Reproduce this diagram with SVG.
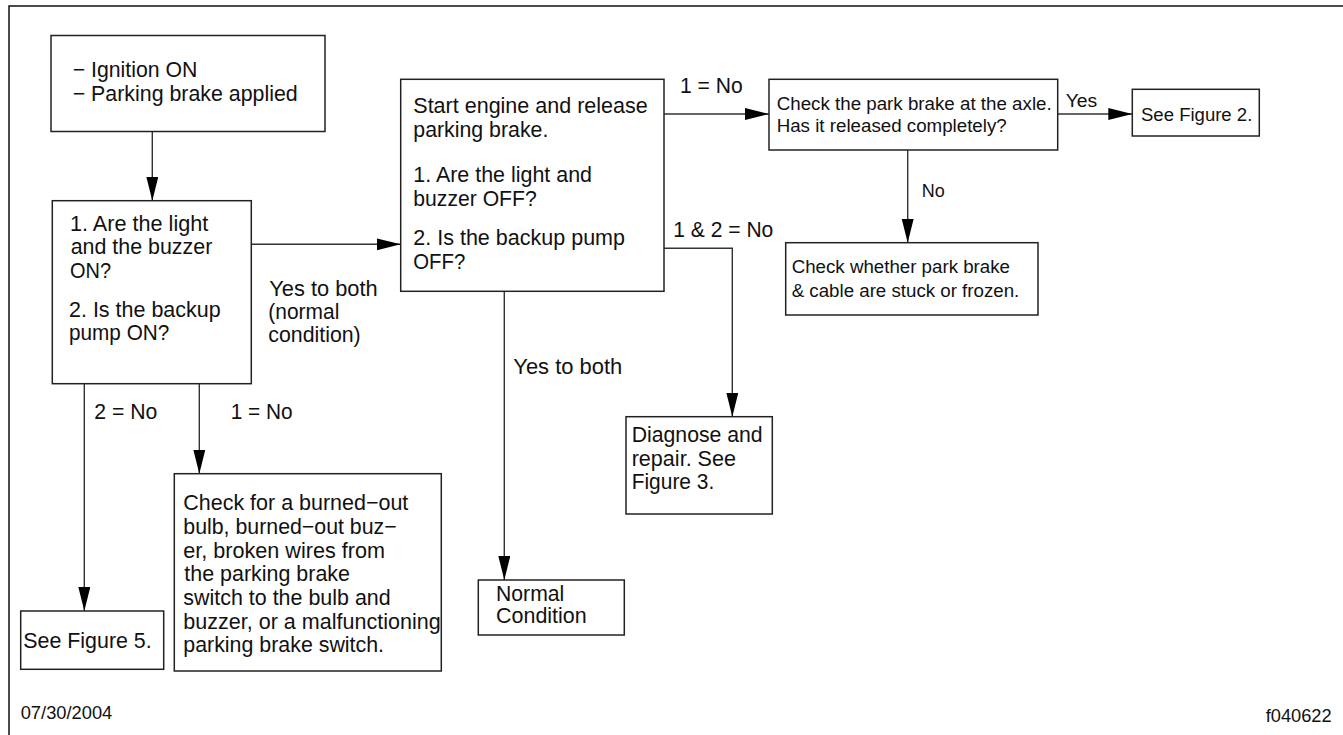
<svg xmlns="http://www.w3.org/2000/svg" width="1343" height="735" viewBox="0 0 1343 735">
<style>
.b{fill:#fff;stroke:#222;stroke-width:1.5}
.c{fill:none;stroke:#333;stroke-width:1.4}
text{font-family:"Liberation Sans",Arial,sans-serif;font-size:21.2px;fill:#111}
.s{font-size:18.7px}
.f{font-size:18.3px}
</style>
<defs>
<marker id="ah" markerUnits="userSpaceOnUse" markerWidth="25" markerHeight="13" refX="24" refY="6" orient="auto" viewBox="0 0 25 13">
<path d="M0,0 L24,6 L0,12 z" fill="#000"/>
</marker>
</defs>
<rect width="1343" height="735" fill="#fff"/>
<path d="M9,735 V6 H1343" fill="none" stroke="#111" stroke-width="1.5"/>

<g id="connectors">
<path class="c" d="M152.3,131.7 V200.7" marker-end="url(#ah)"/>
<path class="c" d="M251.3,244.3 H400.7" marker-end="url(#ah)"/>
<path class="c" d="M84.3,383.7 V611" marker-end="url(#ah)"/>
<path class="c" d="M199.3,383.7 V473.7" marker-end="url(#ah)"/>
<path class="c" d="M664,114 H769" marker-end="url(#ah)"/>
<path class="c" d="M664,248.3 H732.3 V416.7" marker-end="url(#ah)"/>
<path class="c" d="M504.3,291.3 V580" marker-end="url(#ah)"/>
<path class="c" d="M1057.7,114 H1132.3" marker-end="url(#ah)"/>
<path class="c" d="M907.7,150 V242.7" marker-end="url(#ah)"/>
</g>

<g id="labels">
<text x="269.3" y="296" textLength="108.4" lengthAdjust="spacingAndGlyphs">Yes to both</text>
<text x="268.3" y="319" textLength="71" lengthAdjust="spacingAndGlyphs">(normal</text>
<text x="268.3" y="342" textLength="92.4" lengthAdjust="spacingAndGlyphs">condition)</text>
<text x="94.3" y="419.3" textLength="63" lengthAdjust="spacingAndGlyphs">2 = No</text>
<text x="230.7" y="419.3" textLength="62" lengthAdjust="spacingAndGlyphs">1 = No</text>
<text x="680" y="93.3" textLength="62.7" lengthAdjust="spacingAndGlyphs">1 = No</text>
<text x="673.3" y="237.3" textLength="100" lengthAdjust="spacingAndGlyphs">1 &amp; 2 = No</text>
<text x="513.3" y="374" textLength="109" lengthAdjust="spacingAndGlyphs">Yes to both</text>
<text class="s" x="1065.7" y="107.3" textLength="31.6" lengthAdjust="spacingAndGlyphs">Yes</text>
<text class="s" x="921.7" y="197.3" textLength="23" lengthAdjust="spacingAndGlyphs">No</text>
</g>

<g id="n1">
<rect class="b" x="51" y="35.5" width="274" height="96"/>
<text x="72.7" y="77.3" textLength="124.6" lengthAdjust="spacingAndGlyphs">− Ignition ON</text>
<text x="72.7" y="100.7" textLength="225" lengthAdjust="spacingAndGlyphs">− Parking brake applied</text>
</g>

<g id="n2">
<rect class="b" x="52.3" y="200.7" width="199" height="183"/>
<text x="70" y="230.7" textLength="138.3" lengthAdjust="spacingAndGlyphs">1. Are the light</text>
<text x="70.7" y="254.3" textLength="141.6" lengthAdjust="spacingAndGlyphs">and the buzzer</text>
<text x="70" y="277.7" textLength="41" lengthAdjust="spacingAndGlyphs">ON?</text>
<text x="69" y="316.7" textLength="151.7" lengthAdjust="spacingAndGlyphs">2. Is the backup</text>
<text x="69" y="340" textLength="100.3" lengthAdjust="spacingAndGlyphs">pump ON?</text>
</g>

<g id="n3">
<rect class="b" x="400.7" y="79.3" width="263.3" height="212"/>
<text x="413.3" y="113.3" textLength="234.4" lengthAdjust="spacingAndGlyphs">Start engine and release</text>
<text x="413.3" y="137.3" textLength="135" lengthAdjust="spacingAndGlyphs">parking brake.</text>
<text x="413.3" y="181.7" textLength="178.7" lengthAdjust="spacingAndGlyphs">1. Are the light and</text>
<text x="413.3" y="205.7" textLength="123.4" lengthAdjust="spacingAndGlyphs">buzzer OFF?</text>
<text x="413.3" y="245" textLength="211.7" lengthAdjust="spacingAndGlyphs">2. Is the backup pump</text>
<text x="413.3" y="269.3" textLength="52" lengthAdjust="spacingAndGlyphs">OFF?</text>
</g>

<g id="n4">
<rect class="b" x="769" y="79.3" width="288.7" height="70.7"/>
<text class="s" x="776.7" y="110" textLength="275" lengthAdjust="spacingAndGlyphs">Check the park brake at the axle.</text>
<text class="s" x="776.7" y="132.3" textLength="230" lengthAdjust="spacingAndGlyphs">Has it released completely?</text>
</g>

<g id="n5">
<rect class="b" x="1132.3" y="89.3" width="127" height="46.7"/>
<text class="s" x="1141" y="121" textLength="111.3" lengthAdjust="spacingAndGlyphs">See Figure 2.</text>
</g>

<g id="n6">
<rect class="b" x="785.7" y="242.7" width="252.3" height="72.3"/>
<text class="s" x="791.7" y="272.7" textLength="218.3" lengthAdjust="spacingAndGlyphs">Check whether park brake</text>
<text class="s" x="791.7" y="296.7" textLength="227.6" lengthAdjust="spacingAndGlyphs">&amp; cable are stuck or frozen.</text>
</g>

<g id="n7">
<rect class="b" x="20.7" y="611" width="143" height="58.3"/>
<text x="23.3" y="647.7" textLength="128.4" lengthAdjust="spacingAndGlyphs">See Figure 5.</text>
</g>

<g id="n8">
<rect class="b" x="174.3" y="473.7" width="267" height="197.3"/>
<text x="183.3" y="510" textLength="225" lengthAdjust="spacingAndGlyphs">Check for a burned−out</text>
<text x="183.3" y="534" textLength="213.4" lengthAdjust="spacingAndGlyphs">bulb, burned−out buz−</text>
<text x="183.3" y="557.7" textLength="201.7" lengthAdjust="spacingAndGlyphs">er, broken wires from</text>
<text x="184.3" y="581" textLength="165.7" lengthAdjust="spacingAndGlyphs">the parking brake</text>
<text x="183.3" y="605" textLength="207.4" lengthAdjust="spacingAndGlyphs">switch to the bulb and</text>
<text x="183.3" y="629.3" textLength="257.4" lengthAdjust="spacingAndGlyphs">buzzer, or a malfunctioning</text>
<text x="183.3" y="652.3" textLength="200.7" lengthAdjust="spacingAndGlyphs">parking brake switch.</text>
</g>

<g id="n9">
<rect class="b" x="626" y="416.7" width="146.3" height="97.3"/>
<text x="631.7" y="441.7" textLength="131" lengthAdjust="spacingAndGlyphs">Diagnose and</text>
<text x="631.7" y="465.7" textLength="104.3" lengthAdjust="spacingAndGlyphs">repair. See</text>
<text x="631.7" y="489.3" textLength="82.6" lengthAdjust="spacingAndGlyphs">Figure 3.</text>
</g>

<g id="n10">
<rect class="b" x="478.3" y="580" width="146" height="55"/>
<text x="496" y="600.7" textLength="68.3" lengthAdjust="spacingAndGlyphs">Normal</text>
<text x="496" y="623.3" textLength="90.7" lengthAdjust="spacingAndGlyphs">Condition</text>
</g>

<g id="footer">
<text class="f" x="20.7" y="719" textLength="91.6" lengthAdjust="spacingAndGlyphs">07/30/2004</text>
<text class="f" x="1265.7" y="721.5" textLength="66" lengthAdjust="spacingAndGlyphs">f040622</text>
</g>
</svg>
